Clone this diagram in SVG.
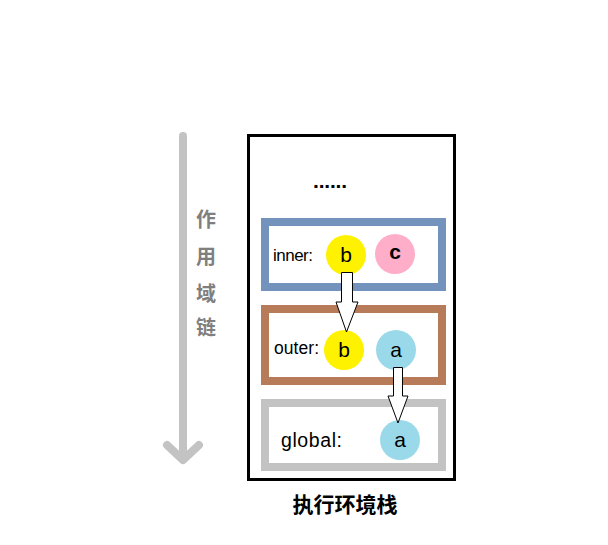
<svg xmlns="http://www.w3.org/2000/svg" width="608" height="545" viewBox="0 0 608 545">
<style>
.lbl{font-family:"Liberation Sans","Noto Sans",sans-serif;fill:#000}
.ltr{font-family:"Liberation Sans","Noto Sans",sans-serif;font-size:21px;text-anchor:middle;fill:#000}
.cjk{font-family:"Noto Sans CJK SC","Liberation Sans",sans-serif;font-weight:bold;text-anchor:middle}
.arr{fill:#fff;stroke:#000;stroke-width:1}
</style>
<rect width="608" height="545" fill="#fff"/>
<g id="scope-chain">
<path d="M183 136 V458 M167 445 L183 460 L199 445" fill="none" stroke="#C3C3C3" stroke-width="8" stroke-linecap="round" stroke-linejoin="round"/>
<text class="cjk" x="206" y="227" font-size="20" fill="#7F7F7F">作</text>
<text class="cjk" x="206" y="264" font-size="20" fill="#7F7F7F">用</text>
<text class="cjk" x="206" y="301" font-size="20" fill="#7F7F7F">域</text>
<text class="cjk" x="206" y="335" font-size="20" fill="#7F7F7F">链</text>
</g>
<g id="stack">
<rect x="248.5" y="135.5" width="206" height="344" fill="#fff" stroke="#000" stroke-width="3"/>
<text class="lbl" x="330" y="188" font-size="21" font-weight="bold" text-anchor="middle" textLength="34">......</text>
</g>
<g id="inner">
<rect x="265" y="222" width="177" height="65" fill="#fff" stroke="#7393BD" stroke-width="8"/>
<text class="lbl" x="273" y="261" font-size="17" textLength="40">inner:</text>
<circle cx="346" cy="255" r="20" fill="#FFF200"/>
<text class="ltr" x="346" y="262">b</text>
<circle cx="395" cy="254" r="20" fill="#FFAEC9"/>
<text class="ltr" x="395" y="259" font-weight="bold">c</text>
</g>
<g id="outer">
<rect x="265" y="309" width="177" height="72" fill="#fff" stroke="#B87B5A" stroke-width="8"/>
<text class="lbl" x="274" y="354" font-size="17.5" textLength="45">outer:</text>
<circle cx="344" cy="350" r="20" fill="#FFF200"/>
<text class="ltr" x="344" y="357">b</text>
<circle cx="396" cy="350" r="20" fill="#99D9EA"/>
<text class="ltr" x="396" y="357">a</text>
</g>
<g id="global">
<rect x="265" y="403" width="177" height="64" fill="#fff" stroke="#C3C3C3" stroke-width="8"/>
<text class="lbl" x="281" y="447" font-size="19.5" textLength="61">global:</text>
<circle cx="400" cy="440" r="20" fill="#99D9EA"/>
<text class="ltr" x="400" y="447">a</text>
</g>
<g id="connectors">
<path class="arr" d="M341.5 272.5 H352.5 V302 H358 L346.5 332 L336 302 H341.5 Z"/>
<path class="arr" d="M393.5 367.5 H402.5 V396 H408 L398 423 L388 396 H393.5 Z"/>
</g>
<text class="cjk" x="345" y="512" font-size="21" fill="#000">执行环境栈</text>
</svg>
